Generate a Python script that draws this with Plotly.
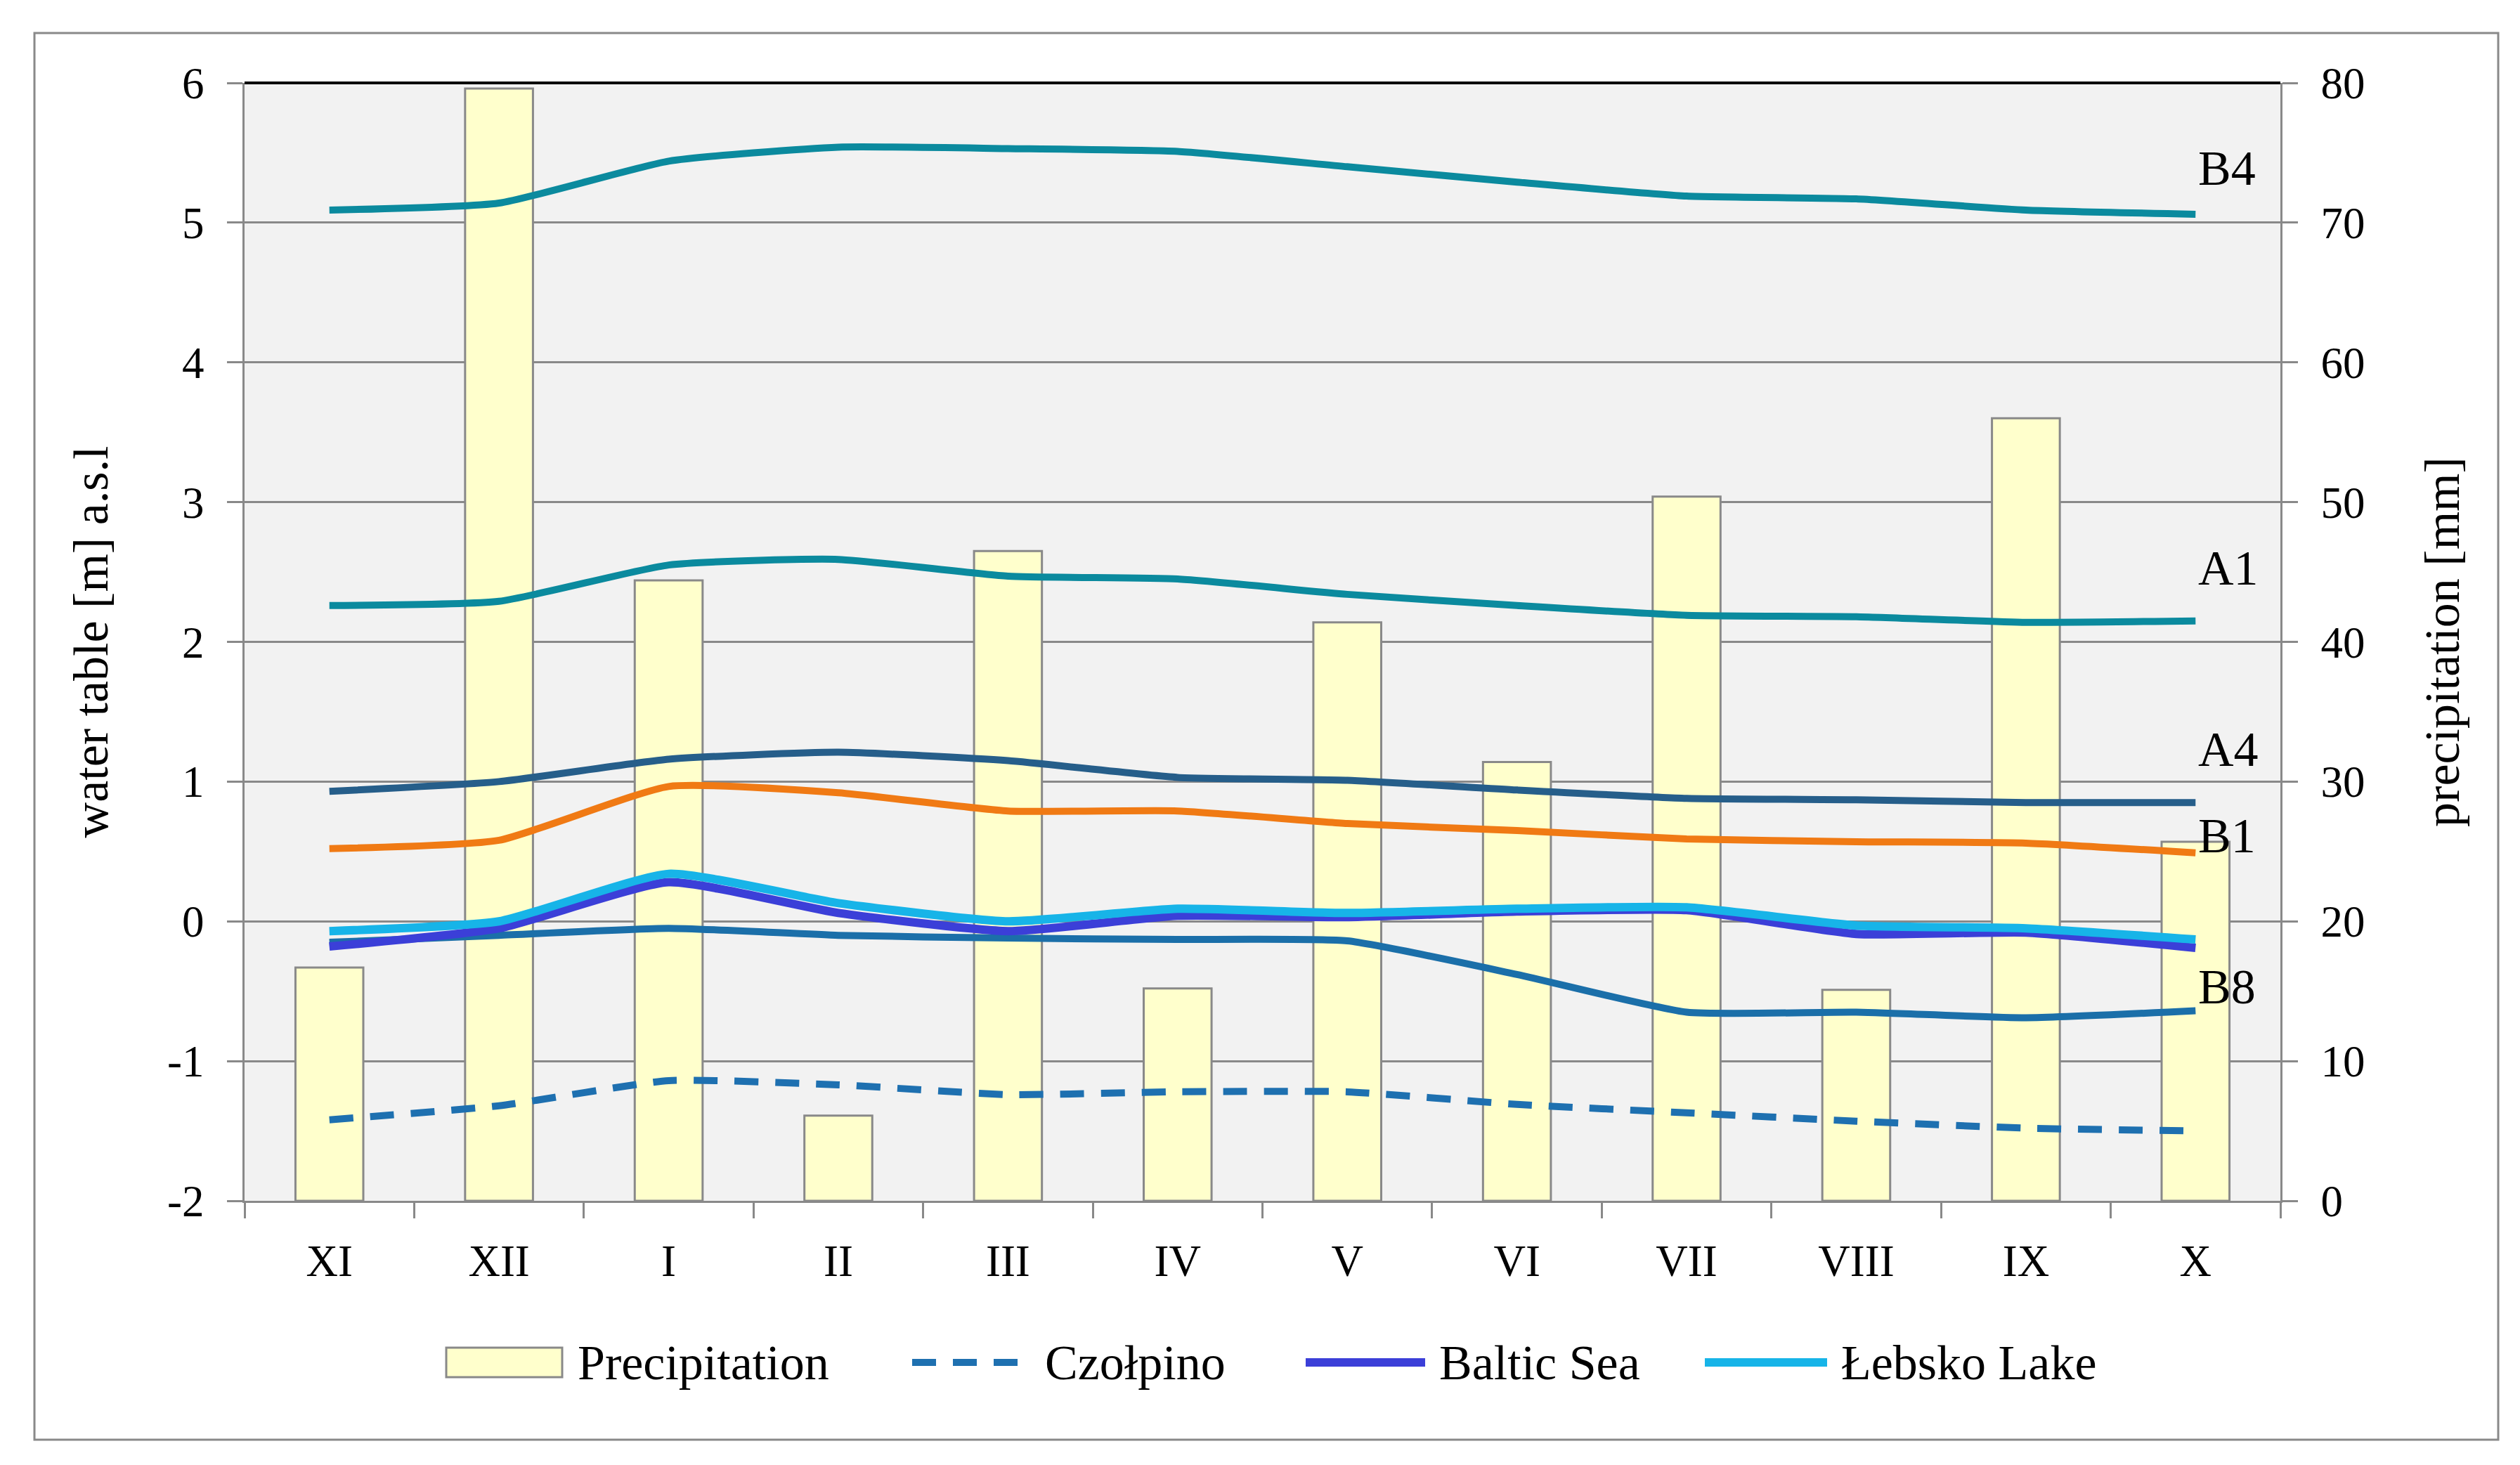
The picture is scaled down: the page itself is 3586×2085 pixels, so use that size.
import plotly.graph_objects as go

months = ["XI", "XII", "I", "II", "III", "IV", "V", "VI", "VII", "VIII", "IX", "X"]
precip = [16.7, 79.6, 44.4, 6.1, 46.5, 15.2, 41.4, 31.4, 50.4, 15.1, 56.0, 25.7]
b4 = [5.09, 5.14, 5.44, 5.54, 5.53, 5.51, 5.40, 5.29, 5.19, 5.17, 5.09, 5.06]
a1 = [2.26, 2.29, 2.55, 2.59, 2.47, 2.45, 2.34, 2.26, 2.19, 2.18, 2.14, 2.15]
a4 = [0.93, 1.00, 1.16, 1.21, 1.15, 1.03, 1.01, 0.94, 0.88, 0.87, 0.85, 0.85]
b1 = [0.52, 0.58, 0.965, 0.92, 0.79, 0.79, 0.70, 0.65, 0.59, 0.57, 0.56, 0.49]
lebsko = [-0.07, 0.00, 0.34, 0.13, 0.00, 0.09, 0.06, 0.09, 0.10, -0.03, -0.05, -0.13]
baltic = [-0.18, -0.05, 0.28, 0.06, -0.07, 0.04, 0.03, 0.07, 0.08, -0.09, -0.08, -0.19]
b8 = [-0.15, -0.10, -0.05, -0.10, -0.12, -0.13, -0.14, -0.38, -0.65, -0.65, -0.69, -0.64]
czolpino = [-1.42, -1.32, -1.14, -1.17, -1.24, -1.22, -1.22, -1.31, -1.37, -1.43, -1.48, -1.50]

wt_ticks = [-2, -1, 0, 1, 2, 3, 4, 5, 6]
wt_ticktext = ["-2", "-1", "0", "1", "2", "3", "4", "5", "6"]

FONT = "Liberation Serif"
GREY = "#898989"
C_TEAL = "#0B8A9E"
C_A4 = "#265E8A"
C_B1 = "#F07A14"
C_B8 = "#1B6FA9"
C_CZ = "#1E70B0"
C_BALTIC = "#3B3FD8"
C_LEBSKO = "#17B4E8"
DASH = "34px,24px"

fig = go.Figure()

fig.add_trace(go.Bar(
    x=months, y=precip, name="Precipitation", yaxis="y",
    marker=dict(color="#FFFFCC", line=dict(color=GREY, width=3)),
    showlegend=False,
))

def line(y, name, color, width=10, dash=None):
    fig.add_trace(go.Scatter(
        x=months, y=y, name=name, yaxis="y2", mode="lines",
        line=dict(color=color, width=width, dash=dash, shape="spline", smoothing=0.5),
        showlegend=False,
    ))

line(b4, "B4", C_TEAL)
line(a1, "A1", C_TEAL)
line(a4, "A4", C_A4)
line(b1, "B1", C_B1)
line(b8, "B8", C_B8)
line(czolpino, "Czołpino", C_CZ, dash=DASH)
line(baltic, "Baltic Sea", C_BALTIC, width=12)
line(lebsko, "Łebsko Lake", C_LEBSKO, width=12)

W, H = 3586, 2085
L, R, T, B = 340, 349, 110, 384
pw, ph = W - L - R, H - T - B

def px(X):
    return (X - L) / pw

def py(Y):
    return (H - B - Y) / ph

labels = [("B4", 5.39), ("A1", 2.53), ("A4", 1.23), ("B1", 0.61), ("B8", -0.47)]
annotations = [
    dict(x="X", y=yy, xref="x", yref="y2", text=t, showarrow=False,
         xanchor="left", yanchor="middle", xshift=2,
         font=dict(family=FONT, size=70, color="black"))
    for t, yy in labels
]

# legend (drawn manually to match the reference's long symbols)
LEG_Y = 1931
legend_items = [
    ("Precipitation", "box", None, 627, 792, 812),
    ("Czołpino", "line", (C_CZ, 10, "dash"), 1290, 1458, 1477),
    ("Baltic Sea", "line", (C_BALTIC, 12, "solid"), 1850, 2020, 2038),
    ("Łebsko Lake", "line", (C_LEBSKO, 12, "solid"), 2418, 2592, 2610),
]

shapes = [
    dict(type="line", xref="paper", yref="paper", x0=0, x1=1, y0=1, y1=1,
         line=dict(color="black", width=4), layer="above"),
    dict(type="rect", xref="paper", yref="paper",
         x0=px(41), x1=px(3547), y0=py(2041), y1=py(39),
         line=dict(color=GREY, width=3)),
]

for name, kind, sty, x0, x1, xt in legend_items:
    if kind == "box":
        shapes.append(dict(type="rect", xref="paper", yref="paper",
                           x0=px(x0), x1=px(x1), y0=py(LEG_Y + 21), y1=py(LEG_Y - 21),
                           fillcolor="#FFFFCC", line=dict(color=GREY, width=3)))
    else:
        color, width, dash = sty
        shapes.append(dict(type="line", xref="paper", yref="paper",
                           x0=px(x0), x1=px(x1), y0=py(LEG_Y), y1=py(LEG_Y),
                           line=dict(color=color, width=width,
                                     dash=DASH if dash == "dash" else "solid")))
    annotations.append(dict(x=px(xt), y=py(LEG_Y), xref="paper", yref="paper",
                            text=name, showarrow=False, xanchor="left", yanchor="middle",
                            font=dict(family=FONT, size=70, color="black")))

tickfont = dict(family=FONT, size=63, color="black")

fig.update_layout(
    width=W, height=H,
    margin=dict(l=L, r=R, t=T, b=B),
    paper_bgcolor="white", plot_bgcolor="#F2F2F2",
    font=dict(family=FONT, size=60, color="black"),
    bargap=0.6,
    showlegend=False,
    xaxis=dict(type="category", tickson="boundaries", ticks="outside", ticklen=22,
               tickwidth=3, tickcolor=GREY, showline=True, linecolor=GREY, linewidth=3,
               showgrid=False, ticklabelstandoff=28, tickfont=tickfont),
    yaxis=dict(side="right", range=[0, 80], dtick=10, ticks="outside", ticklen=22,
               tickwidth=3, tickcolor=GREY, showline=True, linecolor=GREY, linewidth=3,
               showgrid=True, gridcolor=GREY, gridwidth=3, zeroline=False,
               ticklabelstandoff=20, tickfont=tickfont,
               title=dict(text="precipitation [mm]", standoff=86,
                          font=dict(family=FONT, size=70, color="black"))),
    yaxis2=dict(side="left", overlaying="y", range=[-2, 6],
                tickmode="array", tickvals=wt_ticks, ticktext=wt_ticktext,
                ticks="outside", ticklen=22, tickwidth=3, tickcolor=GREY,
                showline=True, linecolor=GREY, linewidth=3, showgrid=False,
                zeroline=False, ticklabelstandoff=20, tickfont=tickfont,
                title=dict(text="water table [m] a.s.l", standoff=62,
                           font=dict(family=FONT, size=70, color="black"))),
    annotations=annotations,
    shapes=shapes,
)

fig.write_html("out.html")
